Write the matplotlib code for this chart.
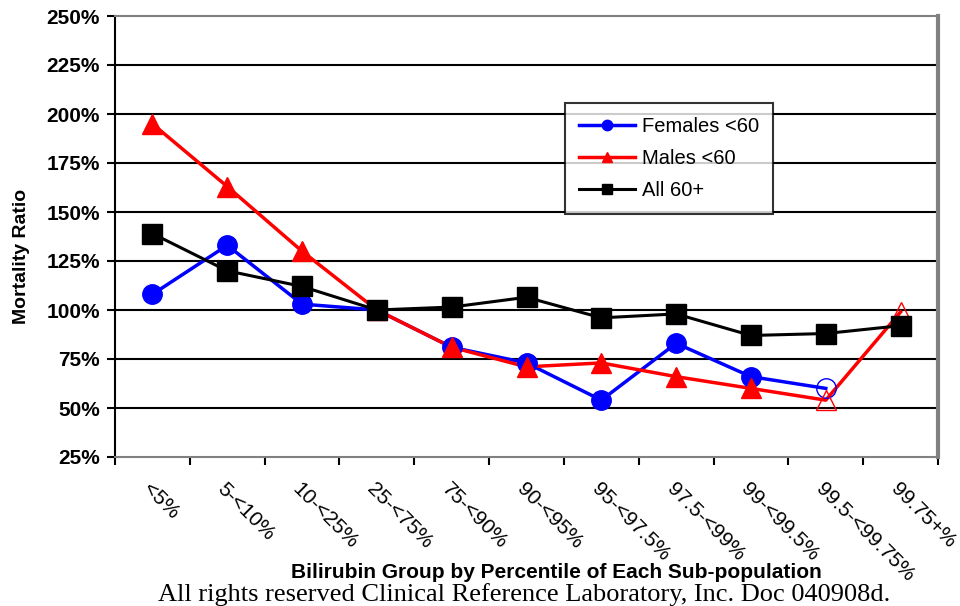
import numpy as np
import matplotlib.pyplot as plt
import matplotlib.transforms as mtransforms

plt.rcParams['font.family'] = ['Liberation Sans', 'DejaVu Sans']

categories = ['<5%', '5-<10%', '10-<25%', '25-<75%', '75-<90%', '90-<95%',
              '95-<97.5%', '97.5-<99%', '99-<99.5%', '99.5-<99.75%', '99.75+%']
females = [108, 133, 103, 100, 81, 73, 54, 83, 66, 60, np.nan]
males = [195, 163, 130, 100, 81, 71, 73, 66, 60, 54, 99]
all60 = [139, 120, 112, 100, 101.5, 106.5, 96, 98, 87, 88, 92]
# points drawn with open markers (small samples)
females_open = [9]
males_open = [9, 10]
y_ticks = [25, 50, 75, 100, 125, 150, 175, 200, 225, 250]

x = np.arange(len(categories))

fig = plt.figure(figsize=(9.6, 6.06), dpi=100)
ax = fig.add_axes([115/960, 1-457/606, 823/960, 441/606])

for yv in y_ticks[1:-1]:
    ax.axhline(yv, color='black', lw=1.5, zorder=1)

def draw_series(vals, open_idx, color, marker, ms, lw, label):
    vals = np.asarray(vals, dtype=float)
    ax.plot(x, vals, color=color, lw=lw, zorder=3)
    solid = [i for i in range(len(vals)) if i not in open_idx and not np.isnan(vals[i])]
    ax.plot(x[solid], vals[solid], ls='none', marker=marker, ms=ms, color=color, zorder=4)
    if open_idx:
        ax.plot(x[open_idx], vals[open_idx], ls='none', marker=marker, ms=ms,
                mfc='none', mec=color, mew=1.0, zorder=4)
    # legend proxy
    ax.plot([], [], color=color, lw=lw, marker=marker, ms=7.5, label=label)

draw_series(females, females_open, '#0000ff', 'o', 14, 2.5, 'Females <60')
draw_series(males, males_open, '#ff0000', '^', 14, 2.5, 'Males <60')
draw_series(all60, [], 'black', 's', 14.5, 2.2, 'All 60+')

ax.set_xlim(-0.5, len(categories) - 0.5)
ax.set_ylim(25, 250)
ax.set_yticks(y_ticks)
ax.set_yticklabels([f'{v}%' for v in y_ticks], fontsize=15, fontweight='bold')
ax.set_xticks(np.arange(-0.5, len(categories)))
ax.set_xticklabels([])
ax.tick_params(axis='both', direction='out', length=6, width=1.5, color='black')
ax.tick_params(axis='y', pad=5)

for side in ['top', 'bottom', 'right']:
    ax.spines[side].set_color('#808080')
ax.spines['right'].set_linewidth(3)
ax.spines['top'].set_linewidth(1.5)
ax.spines['bottom'].set_linewidth(1.5)
ax.spines['left'].set_color('black')
ax.spines['left'].set_linewidth(1.5)

trans = mtransforms.blended_transform_factory(ax.transData, ax.transAxes)
offset = mtransforms.ScaledTranslation(0/100, -22/100, fig.dpi_scale_trans)
for i, lab in enumerate(categories):
    ax.text(i, 0, lab, transform=trans + offset, rotation=-45, ha='left', va='top',
            rotation_mode='anchor', fontsize=15)

fig.text(22/960, 1-256/606, 'Mortality Ratio', rotation=90, ha='center', va='center',
         fontsize=14, fontweight='bold')
fig.text(556/960, 1-572/606, 'Bilirubin Group by Percentile of Each Sub-population',
         ha='center', va='center', fontsize=15, fontweight='bold')
fig.text(524/960, 1-601/606, 'All rights reserved Clinical Reference Laboratory, Inc. Doc 040908d.',
         ha='center', va='baseline', fontsize=19, family='Liberation Serif')

leg = ax.legend(loc='upper left', bbox_to_anchor=((565-115)/823, (457-103)/441),
                fontsize=14.5, frameon=True, fancybox=False, edgecolor='black',
                handlelength=2.8, labelspacing=0.65, borderpad=0.7, handletextpad=0.3,
                borderaxespad=0)
leg.get_frame().set_linewidth(1.5)

fig.savefig('out.png', dpi=100)
